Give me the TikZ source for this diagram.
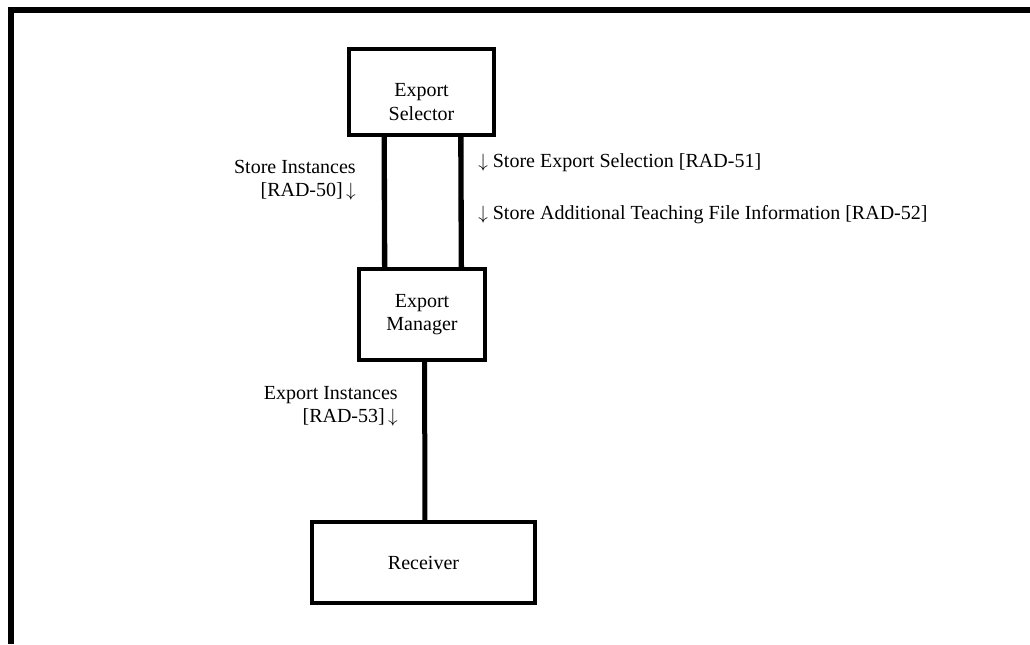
\documentclass[tikz,border=0pt]{standalone}
\usepackage{fontspec}
\setmainfont{Liberation Serif}
\usepackage{tikz}
\usetikzlibrary{arrows.meta}

\begin{document}
\begin{tikzpicture}[x=0.75pt, y=-0.75pt,
    actor/.style={draw, line width=3pt, fill=white,
          font=\fontsize{15}{17.4}\selectfont, align=center},
    wire/.style={line width=4pt},
    lbl/.style={font=\fontsize{15}{17.4}\selectfont, inner sep=0pt}]
  \useasboundingbox (0,0) rectangle (1030,644);
  \draw[line width=4.5pt] (1030,10) -- (11,10) -- (11,644);
  \node[actor, minimum width=108.75pt, minimum height=64.5pt,
        label={[lbl, align=center, yshift=-7.5pt]center:Export\\Selector}]
        (sel) at (421.5,92) {};
  \node[actor, minimum width=94.5pt, minimum height=68.25pt]
        (mgr) at (422,314.5) {Export\\Manager};
  \node[actor, minimum width=167.25pt, minimum height=60.75pt]
        (rcv) at (423.5,562.5) {Receiver};
  \draw[wire] ([xshift=-28pt]sel.south) -- ([xshift=-28pt]mgr.north);
  \draw[wire] ([xshift=29.5pt]sel.south) -- ([xshift=29.5pt]mgr.north);
  \draw[wire, line width=3.75pt] ([xshift=2pt]mgr.south) -- ([xshift=1pt]rcv.north);
  \node[lbl, align=right, anchor=east] (inst) at (356,180)
        {Store Instances\\{}[RAD-50]\,$\downarrow$};
  \node[lbl, anchor=west] (sels) at (478,163)
        {$\downarrow$ Store Export Selection [RAD-51]};
  \node[lbl, anchor=west] (info) at (478,215)
        {$\downarrow$ Store Additional Teaching File Information [RAD-52]};
  \node[lbl, align=right, anchor=east] (expi) at (398,406)
        {Export Instances\\{}[RAD-53]\,$\downarrow$};
\end{tikzpicture}
\end{document}
